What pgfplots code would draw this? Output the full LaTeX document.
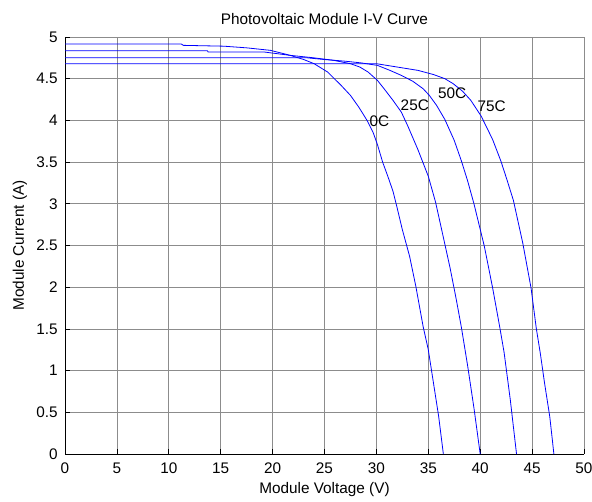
\documentclass[border=0pt]{standalone}
\usepackage{fontspec}
\setmainfont{Liberation Sans}
\usepackage{pgfplots}
\pgfplotsset{compat=1.18}
\begin{document}
\begin{tikzpicture}
\begin{axis}[
  name=ax,
  width=389.25pt, height=312.75pt, scale only axis,
  xmin=0, xmax=50, ymin=0, ymax=5,
  xtick={0,5,...,50},
  ytick={0,0.5,1,1.5,2,2.5,3,3.5,4,4.5,5},
  grid=major,
  major grid style={black!45, line width=0.5pt},
  axis x line*=bottom, axis y line*=left,
  axis line style={black, line width=0.6pt, -},
  tick align=inside, major tick length=3.75pt,
  tick style={black, line width=0.5pt},
  font=\fontsize{11.5}{13.5}\selectfont,
  /pgf/number format/assume math mode=true,
  xticklabel style={yshift=-3pt},
  yticklabel style={xshift=-2pt},
  title={Photovoltaic Module I-V Curve},
  xlabel={Module Voltage (V)},
  ylabel={Module Current (A)},
  clip=false,
]
% 0C
\addplot[blue, line width=0.6pt] coordinates {
  (0,4.916) (11.2,4.916) (11.4,4.90) (15.3,4.89) (17.5,4.87) (19.8,4.84)
  (21.7,4.78) (23,4.73) (24,4.68) (25.3,4.58) (26.6,4.42) (27.5,4.30)
  (28.3,4.16) (29.1,4.00) (29.7,3.85) (30.1,3.71) (30.6,3.50) (31.1,3.33)
  (31.6,3.15) (32.0,2.95) (32.5,2.69) (33.2,2.37) (33.8,2.01) (34.5,1.53)
  (35.0,1.25) (35.5,0.85) (36.0,0.45) (36.45,0)
};
% 25C
\addplot[blue, line width=0.6pt] coordinates {
  (0,4.836) (13.7,4.836) (13.8,4.82) (19.2,4.82) (21.7,4.78) (24,4.75)
  (25.9,4.72) (27.5,4.68) (28.4,4.64) (29.2,4.58) (30.1,4.48) (30.8,4.37)
  (31.6,4.24) (32.4,4.10) (33.0,3.94) (34.0,3.65) (35.0,3.33) (35.7,3.02)
  (36.5,2.57) (37.1,2.23) (37.7,1.85) (38.2,1.51) (38.8,1.05) (39.4,0.55)
  (40.0,0)
};
% 50C
\addplot[blue, line width=0.6pt] coordinates {
  (0,4.751) (23.3,4.751) (25,4.73) (27,4.71) (28.5,4.69) (30.1,4.66)
  (31.3,4.60) (32.4,4.54) (33.5,4.47) (34.5,4.38) (35.1,4.30) (35.8,4.18)
  (36.6,4.01) (37.5,3.76) (38.2,3.51) (38.8,3.27) (39.4,3.00) (40.4,2.49)
  (41.2,1.99) (41.9,1.51) (42.3,1.22) (42.9,0.65) (43.5,0)
};
% 75C
\addplot[blue, line width=0.6pt] coordinates {
  (0,4.68) (30,4.68) (32,4.64) (34.0,4.60) (35.5,4.55) (36.6,4.50)
  (37.4,4.44) (38.3,4.35) (39.1,4.24) (40.1,4.05) (41.2,3.77) (42.0,3.51)
  (42.6,3.28) (43.2,3.04) (44.1,2.53) (44.9,1.99) (45.4,1.51) (45.8,1.20)
  (46.2,0.85) (46.7,0.45) (47.1,0)
};
\node at (axis cs:30.3,3.99) {0C};
\node at (axis cs:33.7,4.18) {25C};
\node at (axis cs:37.3,4.33) {50C};
\node at (axis cs:41.1,4.17) {75C};
\end{axis}
\pgfresetboundingbox
\path (-48.75pt,-35.25pt) rectangle (395.25pt,340.5pt);
\end{tikzpicture}
\end{document}
